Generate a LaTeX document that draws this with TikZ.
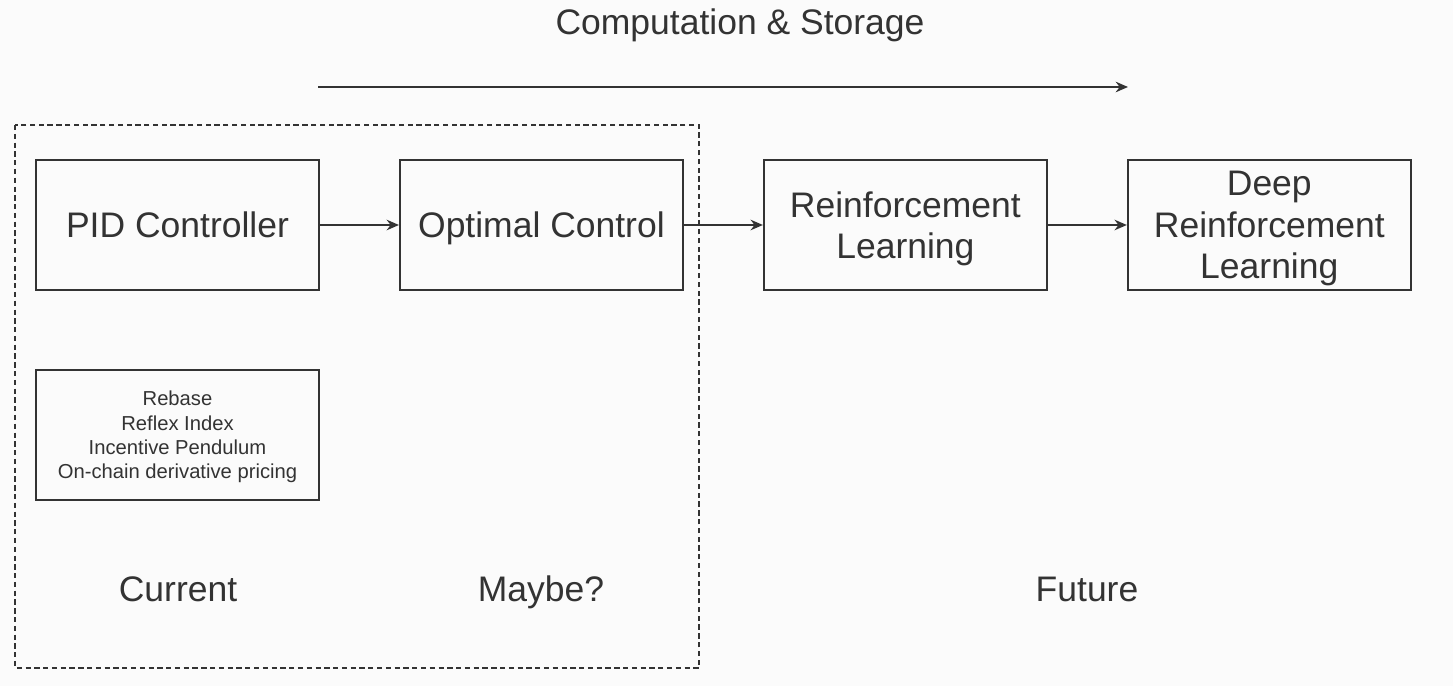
\documentclass[tikz,border=0pt]{standalone}
\usepackage{fontspec}
\setmainfont{Liberation Sans}
\usepackage{xcolor}
\usepackage{tikz}
\usetikzlibrary{arrows.meta, positioning}
\definecolor{inkgray}{HTML}{333333}
\definecolor{paper}{HTML}{FBFBFB}

\begin{document}
\begin{tikzpicture}[
        node distance=1.58cm,
        block/.style={rectangle, draw=inkgray, line width=1.1pt, align=center, minimum width=5.66cm, minimum height=2.6cm, inner sep=0pt, text depth=0pt, text=inkgray, font=\fontsize{20.2}{23.5}\selectfont},
        notebox/.style={block, text depth=0pt, font=\fontsize{11.5}{13.8}\selectfont},
        caption/.style={text=inkgray, text depth=0pt, font=\fontsize{20.2}{24}\selectfont},
        arrow/.style={line width=1.1pt, draw=inkgray, -{Stealth[length=7pt, width=6pt]}},
        group/.style={draw=inkgray, line width=1.1pt, dash pattern=on 3pt off 2pt}
    ]
        \useasboundingbox[fill=paper] (0,0) rectangle (29.06,-13.72);

        % Stages, left to right
        \node[block] (pid) at (3.55,-4.5) {PID Controller};
        \node[block, right=of pid] (optimal) {Optimal Control};
        \node[block, right=of optimal] (rl) {Reinforcement\\Learning};
        \node[block, right=of rl] (deeprl) {Deep\\Reinforcement\\Learning};

        % Examples under the PID box
        \node[notebox, below=1.56cm of pid] (uses) {Rebase\\Reflex Index\\Incentive Pendulum\\On-chain derivative pricing};

        % Arrows between stages
        \draw[arrow] (pid) -- (optimal);
        \draw[arrow] (optimal) -- (rl);
        \draw[arrow] (rl) -- (deeprl);

        % Current / maybe region
        \draw[group] (0.3,-2.5) rectangle (13.98,-13.36);

        % Column labels
        \node[caption] (current) at (3.56,-11.78) {Current};
        \node[caption] (maybe) at (10.82,-11.78) {Maybe?};
        \node[caption] (future) at (21.74,-11.78) {Future};

        % Growth of computation and storage
        \node[caption] (growth) at (14.8,-0.44) {Computation \& Storage};
        \coordinate (growthStart) at (6.36,-1.74);
        \coordinate (growthEnd) at (22.56,-1.74);
        \draw[arrow] (growthStart) -- (growthEnd);

    \end{tikzpicture}
\end{document}
